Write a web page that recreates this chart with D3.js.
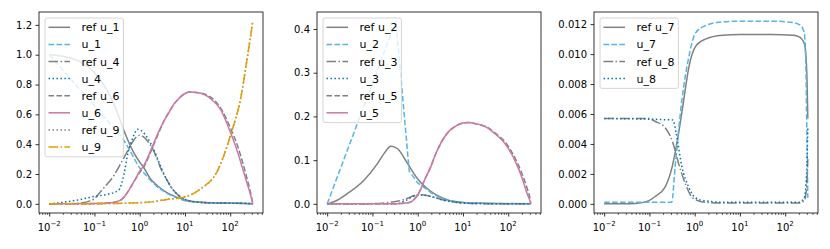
<!DOCTYPE html>
<html>
<head>
<meta charset="utf-8">
<script src="https://cdn.jsdelivr.net/npm/d3@7"></script>
<style>
  body { margin: 0; background: #fff; }
  text { font-family: "DejaVu Sans", sans-serif; font-size: 10px; fill: #000; }
</style>
</head>
<body>
<div></div>
<script>
// values, as [t, value]
var refU1 = [[0.01,1.0],[0.02,0.99],[0.05,0.95],[0.1,0.88],[0.135,0.83],[0.2,0.75],[0.27,0.67],[0.35,0.58],[0.45,0.49],[0.6,0.40],[0.75,0.34],[1,0.28],[1.25,0.24],[1.7,0.17],[2.5,0.12],[4,0.075],[6,0.05],[10,0.025],[20,0.012],[50,0.006],[100,0.004],[200,0.003],[316,0]];
var u1 = [[0.01,1.0],[0.4,0.45],[0.6,0.36],[0.8,0.29],[1,0.24],[1.3,0.2],[1.7,0.16],[2.5,0.11],[4,0.07],[6,0.045],[10,0.02],[20,0.01],[50,0.006],[100,0.004],[200,0.003],[316,0.002]];
var refU4 = [[0.01,0],[0.03,0.001],[0.05,0.005],[0.08,0.02],[0.1,0.035],[0.135,0.08],[0.2,0.14],[0.27,0.19],[0.35,0.25],[0.45,0.31],[0.6,0.38],[0.75,0.43],[1,0.46],[1.2,0.45],[1.5,0.42],[2,0.36],[2.5,0.29],[3,0.23],[4,0.16],[5,0.11],[7,0.06],[10,0.03],[15,0.015],[30,0.008],[100,0.005],[200,0.004],[316,0]];
var u4 = [[0.01,0],[0.02,0.01],[0.05,0.03],[0.1,0.05],[0.2,0.065],[0.34,0.09],[0.45,0.2],[0.55,0.34],[0.7,0.44],[0.9,0.5],[1.1,0.49],[1.5,0.44],[2,0.37],[2.5,0.30],[3,0.24],[4,0.16],[5,0.11],[7,0.06],[10,0.03],[15,0.015],[30,0.008],[100,0.005],[200,0.004],[316,0]];
var refU6 = [[0.01,0],[0.1,0.002],[0.2,0.005],[0.35,0.02],[0.45,0.045],[0.6,0.1],[0.75,0.15],[1,0.21],[1.25,0.25],[1.5,0.3],[2,0.39],[2.5,0.46],[3.5,0.56],[5,0.64],[5.75,0.67],[7,0.70],[10,0.74],[12.5,0.75],[20,0.745],[37,0.715],[62,0.64],[104,0.5],[145,0.39],[200,0.25],[240,0.16],[280,0.08],[316,0]];
var u6 = [[0.01,0],[0.1,0.002],[0.2,0.005],[0.35,0.02],[0.45,0.045],[0.6,0.1],[0.75,0.15],[1,0.22],[1.25,0.26],[1.5,0.31],[2,0.40],[2.5,0.47],[3.5,0.56],[5,0.64],[5.75,0.67],[7,0.70],[10,0.74],[12.5,0.75],[20,0.745],[37,0.705],[62,0.63],[104,0.47],[145,0.35],[200,0.21],[240,0.13],[270,0.08],[316,0]];
var refU9 = [[0.01,0],[0.1,0.001],[1,0.008],[2,0.015],[4,0.03],[9.5,0.045],[22,0.1],[52,0.22],[104,0.47],[176,0.73],[225,0.93],[316,1.225]];
var u9 = [[0.01,0],[0.1,0.001],[1,0.008],[2,0.015],[4,0.03],[9.5,0.045],[22,0.1],[52,0.22],[104,0.47],[176,0.73],[225,0.93],[316,1.225]];

var refU2 = [[0.01,0],[0.015,0.006],[0.0275,0.023],[0.065,0.054],[0.129,0.092],[0.18,0.115],[0.257,0.132],[0.36,0.126],[0.6,0.092],[1,0.057],[1.66,0.034],[3.3,0.015],[7.8,0.004],[15,0.002],[50,0.001],[316,0]];
var u2 = [[0.01,0],[0.33,0.418],[0.65,0.075],[1,0.048],[1.5,0.035],[2,0.025],[3.3,0.013],[5,0.007],[10,0.003],[30,0.001],[316,0]];
var refU3 = [[0.01,0],[0.1,0.0005],[0.26,0.004],[0.43,0.008],[0.6,0.013],[0.85,0.019],[1.1,0.021],[1.6,0.019],[2.5,0.014],[3.3,0.01],[5,0.006],[8,0.003],[15,0.001],[50,0.0003],[316,0]];
var u3 = [[0.01,0],[0.35,0.0003],[0.55,0.008],[0.75,0.016],[1,0.02],[1.3,0.02],[1.7,0.018],[2.5,0.014],[3.3,0.01],[5,0.006],[8,0.003],[15,0.001],[50,0.0003],[316,0]];
var refU5 = [[0.01,0],[0.35,0.0005],[0.65,0.003],[0.85,0.011],[1.1,0.028],[1.41,0.054],[2,0.088],[2.34,0.107],[3,0.132],[3.9,0.153],[5,0.167],[6.5,0.176],[10,0.185],[13,0.186],[20,0.183],[26,0.18],[35,0.175],[50,0.163],[85,0.142],[141,0.105],[200,0.07],[263,0.035],[300,0.015],[316,0]];
var u5 = [[0.01,0],[0.35,0.0005],[0.65,0.003],[0.85,0.011],[1.1,0.028],[1.41,0.054],[2,0.088],[2.34,0.107],[3,0.132],[3.9,0.153],[5,0.167],[6.5,0.176],[10,0.185],[13,0.186],[20,0.183],[26,0.18],[35,0.174],[50,0.161],[85,0.138],[141,0.099],[200,0.061],[263,0.023],[300,0.008],[316,0]];

var refU7 = [[0.01,0],[0.05,0.00003],[0.095,0.0002],[0.135,0.0005],[0.22,0.0011],[0.32,0.0025],[0.44,0.0047],[0.57,0.0069],[0.74,0.0091],[1.04,0.0105],[1.73,0.011],[4.1,0.01125],[10,0.0113],[50,0.0113],[150,0.01125],[204,0.01115],[264,0.0107],[297,0.0091],[316,0.0057]];
var u7 = [[0.01,0.0001],[0.31,0.0001],[0.37,0.0025],[0.52,0.0069],[0.74,0.0098],[1.04,0.0114],[1.73,0.0119],[4.1,0.01215],[10,0.0122],[50,0.0122],[150,0.0121],[220,0.0119],[264,0.0114],[285,0.0095],[300,0.005],[316,0.0004]];
var refU8 = [[0.01,0.0057],[0.095,0.0057],[0.135,0.0055],[0.22,0.0051],[0.32,0.0042],[0.44,0.0027],[0.63,0.0013],[0.9,0.0004],[1.73,0.0001],[5,0.00005],[200,0.00005],[263,0.0002],[295,0.001],[316,0.003]];
var u8 = [[0.01,0.0057],[0.33,0.0056],[0.39,0.0047],[0.52,0.0025],[0.74,0.0011],[1.04,0.0004],[1.73,0.0002],[5,0.0001],[200,0.0001],[263,0.0004],[297,0.002],[316,0.0051]];

var yTicks1 = [0, 0.2, 0.4, 0.6, 0.8, 1.0, 1.2];
var yTicks2 = [0, 0.1, 0.2, 0.3, 0.4];
var yTicks3 = [0, 0.002, 0.004, 0.006, 0.008, 0.010, 0.012];
var xTicks = [1e-2, 1e-1, 1e0, 1e1, 1e2];

var width = 830,
    height = 249,
    plotTop = 12,
    plotBottom = 213;

var GRAY = "#808080", SKY = "#56B4E9", BLUE = "#0072B2", PINK = "#CC79A7", ORANGE = "#E69F00";
var lw = 1.5;
var dashes = {
    solid: null,
    dashed: [3.7 * lw, 1.6 * lw].join(","),
    dotted: [1 * lw, 1.65 * lw].join(","),
    dashdot: [6.4 * lw, 1.6 * lw, 1 * lw, 1.6 * lw].join(",")
};

var panels = [
    { left: 39, right: 263, yTicks: yTicks1, fmt: ".1f", series: [
        { name: "ref u_1", data: refU1, color: GRAY, dash: "solid" },
        { name: "u_1", data: u1, color: SKY, dash: "dashed", linear: true },
        { name: "ref u_4", data: refU4, color: GRAY, dash: "dashdot" },
        { name: "u_4", data: u4, color: BLUE, dash: "dotted" },
        { name: "ref u_6", data: refU6, color: GRAY, dash: "dashed" },
        { name: "u_6", data: u6, color: PINK, dash: "solid" },
        { name: "ref u_9", data: refU9, color: GRAY, dash: "dotted" },
        { name: "u_9", data: u9, color: ORANGE, dash: "dashdot" }
    ]},
    { left: 317, right: 541, yTicks: yTicks2, fmt: ".1f", series: [
        { name: "ref u_2", data: refU2, color: GRAY, dash: "solid" },
        { name: "u_2", data: u2, color: SKY, dash: "dashed", linear: true },
        { name: "ref u_3", data: refU3, color: GRAY, dash: "dashdot" },
        { name: "u_3", data: u3, color: BLUE, dash: "dotted" },
        { name: "ref u_5", data: refU5, color: GRAY, dash: "dashed" },
        { name: "u_5", data: u5, color: PINK, dash: "solid" }
    ]},
    { left: 594, right: 818, yTicks: yTicks3, fmt: ".3f", series: [
        { name: "ref u_7", data: refU7, color: GRAY, dash: "solid" },
        { name: "u_7", data: u7, color: SKY, dash: "dashed" },
        { name: "ref u_8", data: refU8, color: GRAY, dash: "dashdot" },
        { name: "u_8", data: u8, color: BLUE, dash: "dotted" }
    ]}
];

var svg = d3.select("div").append("svg")
    .attr("width", width)
    .attr("height", height);

panels.forEach(function(p, pi) {
    // matplotlib style 5% margins
    var all = [];
    p.series.forEach(function(s) { s.data.forEach(function(d) { all.push(d); }); });
    var tExt = d3.extent(all, function(d) { return d[0]; });
    var vExt = d3.extent(all, function(d) { return d[1]; });
    var lt0 = Math.log10(tExt[0]), lt1 = Math.log10(tExt[1]);
    var lpad = (lt1 - lt0) * 0.05;
    var vpad = (vExt[1] - vExt[0]) * 0.05;

    var x = d3.scaleLog()
        .domain([Math.pow(10, lt0 - lpad), Math.pow(10, lt1 + lpad)])
        .range([p.left, p.right]);
    var y = d3.scaleLinear()
        .domain([vExt[0] - vpad, vExt[1] + vpad])
        .range([plotBottom, plotTop]);

    var g = svg.append("g");

    var clipId = "clip" + pi;
    g.append("clipPath").attr("id", clipId)
        .append("rect")
        .attr("x", p.left).attr("y", plotTop)
        .attr("width", p.right - p.left).attr("height", plotBottom - plotTop);

    var lines = g.append("g").attr("clip-path", "url(#" + clipId + ")");
    p.series.forEach(function(s) {
        var line = d3.line()
            .x(function(d) { return x(d[0]); })
            .y(function(d) { return y(d[1]); })
            .curve(s.linear ? d3.curveLinear : d3.curveMonotoneX);
        lines.append("path")
            .datum(s.data)
            .attr("d", line)
            .attr("fill", "none")
            .attr("stroke", s.color)
            .attr("stroke-width", lw)
            .attr("stroke-dasharray", dashes[s.dash]);
    });

    // y axis
    var yAxis = d3.axisLeft(y)
        .tickValues(p.yTicks)
        .tickSize(3.5)
        .tickPadding(3.5)
        .tickFormat(d3.format(p.fmt));
    var ya = g.append("g")
        .attr("transform", "translate(" + p.left + ",0)")
        .call(yAxis);
    ya.select(".domain").remove();
    ya.selectAll("line").attr("stroke-width", 0.8);
    ya.selectAll("text").style("font-size", "10px").style("font-family", "DejaVu Sans");

    // x axis, minor ticks first
    var minor = [];
    var d0 = x.domain()[0], d1 = x.domain()[1];
    for (var e = -3; e <= 3; e++) {
        for (var m = 2; m <= 9; m++) {
            var v = m * Math.pow(10, e);
            if (v >= d0 && v <= d1) minor.push(v);
        }
    }
    var xm = g.append("g").attr("transform", "translate(0," + plotBottom + ")")
        .call(d3.axisBottom(x).tickValues(minor).tickSize(2).tickFormat(""));
    xm.select(".domain").remove();
    xm.selectAll("line").attr("stroke-width", 0.6);

    var xa = g.append("g").attr("transform", "translate(0," + plotBottom + ")")
        .call(d3.axisBottom(x).tickValues(xTicks).tickSize(3.5).tickFormat(""));
    xa.select(".domain").remove();
    xa.selectAll("line").attr("stroke-width", 0.8);

    xTicks.forEach(function(t) {
        var ex = String(Math.round(Math.log10(t))).replace("-", "\u2212");
        var txt = g.append("text")
            .attr("x", x(t))
            .attr("y", plotBottom + 17.5)
            .attr("text-anchor", "middle");
        txt.append("tspan").text("10");
        txt.append("tspan")
            .attr("dy", -4.2)
            .style("font-size", "7px")
            .text(ex);
    });

    // frame
    g.append("rect")
        .attr("x", p.left).attr("y", plotTop)
        .attr("width", p.right - p.left).attr("height", plotBottom - plotTop)
        .attr("fill", "none")
        .attr("stroke", "#000")
        .attr("stroke-width", 0.8);

    // legend
    var lx = p.left + 6, ly = plotTop + 6, rowH = 17.1;
    var lg = g.append("g");
    var box = lg.append("rect")
        .attr("x", lx).attr("y", ly)
        .attr("rx", 2).attr("ry", 2)
        .attr("fill", "#fff")
        .attr("fill-opacity", 0.8)
        .attr("stroke", "#cccccc")
        .attr("stroke-width", 0.8);
    var maxW = 0;
    p.series.forEach(function(s, i) {
        var cy = ly + 9.3 + i * rowH;
        lg.append("line")
            .attr("x1", lx + 3.5).attr("x2", lx + 25)
            .attr("y1", cy).attr("y2", cy)
            .attr("stroke", s.color)
            .attr("stroke-width", lw)
            .attr("stroke-dasharray", dashes[s.dash]);
        var t = lg.append("text")
            .attr("x", lx + 36.5)
            .attr("y", cy + 4)
            .style("font-size", "11px")
            .text(s.name);
        maxW = Math.max(maxW, t.node().getComputedTextLength());
    });
    box.attr("width", 36.5 + maxW + 4)
        .attr("height", p.series.length * rowH + 2);
});
</script>
</body>
</html>
